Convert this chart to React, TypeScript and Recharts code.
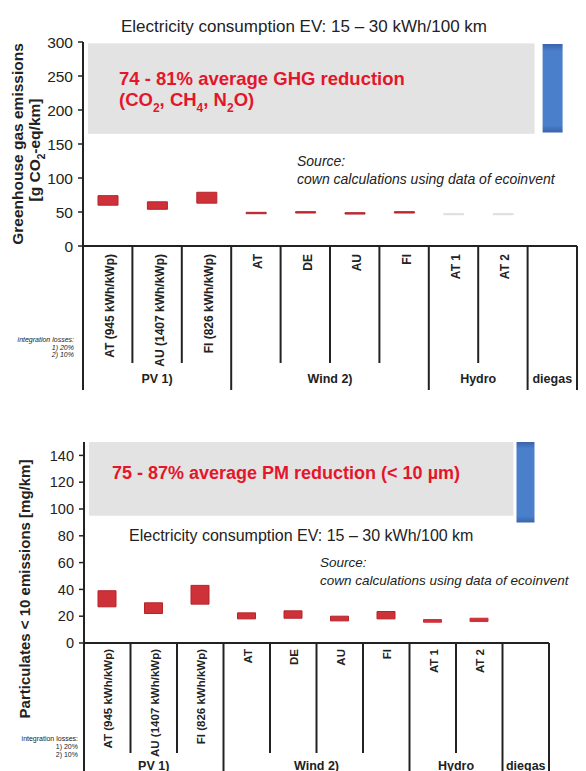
import React from 'react';
import { BarChart, Bar, XAxis, YAxis, Cell, ReferenceArea } from 'recharts';

const categories = ['pv-at', 'pv-au', 'pv-fi', 'wind-at', 'wind-de', 'wind-au', 'wind-fi', 'hydro-at1', 'hydro-at2', 'diesel'];
const tickLabels = ['AT (945 kWh/kWp)', 'AU (1407 kWh/kWp)', 'FI (826 kWh/kWp)', 'AT', 'DE', 'AU', 'FI', 'AT 1', 'AT 2', ''];
const groupLabels = ['PV 1)', 'Wind 2)', 'Hydro', 'diegas'];
const groupSizes = [3, 4, 2, 1];

// greenhouse gas, g CO2-eq/km (min / max)
const ghgLow = [60, 54, 63, 47.5, 48.5, 47, 48.5, 46, 46, 167];
const ghgHigh = [74, 65, 79, 49.5, 50.5, 49, 50.5, 47.5, 47.5, 297];
const ghgTicks = [0, 50, 100, 150, 200, 250, 300];
const ghgBand = [165, 298];

// particulates < 10 um, mg/km (min / max)
const pmLow = [27, 22, 29, 18, 18.5, 16.5, 18, 15.5, 16, 90];
const pmHigh = [39, 30, 43, 22.5, 24, 20, 23.5, 17.5, 18.5, 150];
const pmTicks = [0, 20, 40, 60, 80, 100, 120, 140];
const pmBand = [95, 150];

const FONT = '"Liberation Sans", Arial, sans-serif';
const INK = '#222222';
const RED_TEXT = '#e3162b';

const groupStarts = groupSizes.map((_, i) => groupSizes.slice(0, i).reduce((a, b) => a + b, 0));

type PanelCfg = {
  top: number;
  height: number;
  plotLeft: number;
  plotRight: number;
  plotTop: number;
  plotBottom: number;
  domainMax: number;
  ticks: number[];
  low: number[];
  high: number[];
  band: number[];
  bandInset: [number, number];
  barSize: number;
  tickFont: number;
  labelFont: number;
  labelDx: number;
  labelDy: number;
  shortLine: number;
  longLine: number;
  groupY: number;
  hydroColor: string;
  gradId: string;
};

function CategoryTick(props: any) {
  const { x, index, cfg } = props;
  const c: PanelCfg = cfg;
  const y0 = c.plotBottom;
  const bw = (c.plotRight - c.plotLeft) / categories.length;
  const left = x - bw / 2;
  const gi = groupStarts.indexOf(index);
  const isStart = gi >= 0;
  const last = index === categories.length - 1;
  const px = x + c.labelDx;
  const py = y0 + c.labelDy;
  return (
    <g>
      <line x1={left} x2={left} y1={y0} y2={y0 + (isStart ? c.longLine : c.shortLine)} stroke={INK} strokeWidth={2} />
      {last && (
        <line x1={left + bw} x2={left + bw} y1={y0} y2={y0 + c.longLine} stroke={INK} strokeWidth={2} />
      )}
      <text
        x={px}
        y={py}
        transform={`rotate(-90, ${px}, ${py})`}
        textAnchor="end"
        fontFamily={FONT}
        fontWeight="bold"
        fontSize={c.labelFont}
        fill={INK}
      >
        {tickLabels[index]}
      </text>
      {isStart && (
        <text
          x={left + (groupSizes[gi] * bw) / 2}
          y={y0 + c.groupY}
          textAnchor="middle"
          fontFamily={FONT}
          fontWeight="bold"
          fontSize={12.5}
          fill={INK}
        >
          {groupLabels[gi]}
        </text>
      )}
    </g>
  );
}

function Panel({ cfg }: { cfg: PanelCfg }) {
  const data = categories.map((key, i) => ({ key, range: [cfg.low[i], cfg.high[i]] }));
  const width = 586;
  return (
    <div style={{ position: 'absolute', left: 0, top: cfg.top }}>
      <BarChart
        width={width}
        height={cfg.height}
        data={data}
        margin={{ top: cfg.plotTop, right: width - cfg.plotRight, left: cfg.plotLeft - 60, bottom: 0 }}
      >
        <defs>
          <linearGradient id={cfg.gradId} x1="0" y1="0" x2="0" y2="1">
            <stop offset="0%" stopColor="#3a64aa" />
            <stop offset="8%" stopColor="#4a7fcb" />
            <stop offset="92%" stopColor="#4a7fcb" />
            <stop offset="100%" stopColor="#3a64aa" />
          </linearGradient>
        </defs>
        <XAxis
          dataKey="key"
          height={cfg.height - cfg.plotBottom}
          interval={0}
          tickLine={false}
          tickSize={0}
          tickMargin={0}
          axisLine={{ stroke: INK, strokeWidth: 2 }}
          tick={(p: any) => <CategoryTick {...p} cfg={cfg} />}
        />
        <YAxis
          width={60}
          domain={[0, cfg.domainMax]}
          ticks={cfg.ticks}
          interval={0}
          stroke={INK}
          tickSize={5}
          tickMargin={5}
          axisLine={{ stroke: INK, strokeWidth: 2 }}
          tickLine={{ stroke: INK, strokeWidth: 1.5 }}
          tick={{ fill: INK, fontSize: cfg.tickFont, fontFamily: FONT }}
        />
        <ReferenceArea
          x1={categories[0]}
          x2={categories[8]}
          y1={cfg.band[0]}
          y2={cfg.band[1]}
          fill="#e3e3e3"
          fillOpacity={1}
          stroke="none"
          shape={(p: any) => (
            <rect
              x={p.x + cfg.bandInset[0]}
              y={p.y}
              width={p.width - cfg.bandInset[0] + cfg.bandInset[1]}
              height={p.height}
              fill="#e3e3e3"
            />
          )}
        />
        <Bar dataKey="range" barSize={cfg.barSize} isAnimationActive={false}>
          {categories.map((k, i) => {
            const fill = i === 9 ? `url(#${cfg.gradId})` : i >= 7 ? cfg.hydroColor : '#cf3139';
            const stroke = i === 9 ? 'none' : i >= 7 ? cfg.hydroColor : '#b5242c';
            return <Cell key={k} fill={fill} stroke={stroke} strokeWidth={1} />;
          })}
        </Bar>
      </BarChart>
    </div>
  );
}

const topCfg: PanelCfg = {
  top: 0,
  height: 400,
  plotLeft: 83,
  plotRight: 577,
  plotTop: 42,
  plotBottom: 246,
  domainMax: 300,
  ticks: ghgTicks,
  low: ghgLow,
  high: ghgHigh,
  band: ghgBand,
  bandInset: [5, 7],
  barSize: 20,
  tickFont: 15.5,
  labelFont: 12,
  labelDx: 6.5,
  labelDy: 8,
  shortLine: 117,
  longLine: 144,
  groupY: 137,
  hydroColor: '#dedede',
  gradId: 'dieselTop',
};

const bottomCfg: PanelCfg = {
  top: 400,
  height: 371,
  plotLeft: 84,
  plotRight: 549,
  plotTop: 42,
  plotBottom: 243,
  domainMax: 150,
  ticks: pmTicks,
  low: pmLow,
  high: pmHigh,
  band: pmBand,
  bandInset: [5, 11],
  barSize: 18,
  tickFont: 14.5,
  labelFont: 11.5,
  labelDx: 5,
  labelDy: 6,
  shortLine: 110,
  longLine: 128,
  groupY: 127,
  hydroColor: '#cf3139',
  gradId: 'dieselBottom',
};

function Sub({ children, size }: { children: React.ReactNode; size: number }) {
  return (
    <tspan dy={size * 0.3} fontSize={size * 0.65}>
      {children}
    </tspan>
  );
}

function Overlay() {
  const t = { fontFamily: FONT, fill: INK };
  return (
    <svg width={586} height={771} style={{ position: 'absolute', left: 0, top: 0, pointerEvents: 'none' }}>
      {/* top panel */}
      <text x={304} y={32} fontSize={17} textAnchor="middle" {...t}>
        Electricity consumption EV: 15 – 30 kWh/100 km
      </text>
      <text x={119} y={85} fontSize={18.5} fontWeight="bold" fontFamily={FONT} fill={RED_TEXT}>
        74 - 81% average GHG reduction
      </text>
      <text x={119} y={106} fontSize={18.5} fontWeight="bold" fontFamily={FONT} fill={RED_TEXT}>
        (CO<Sub size={18.5}>2</Sub>
        <tspan dy={-18.5 * 0.3}>, CH</tspan>
        <Sub size={18.5}>4</Sub>
        <tspan dy={-18.5 * 0.3}>, N</tspan>
        <Sub size={18.5}>2</Sub>
        <tspan dy={-18.5 * 0.3}>O)</tspan>
      </text>
      <text x={297} y={166} fontSize={14} fontStyle="italic" {...t}>Source:</text>
      <text x={297} y={184} fontSize={14} fontStyle="italic" {...t}>cown calculations using data of ecoinvent</text>
      <text x={23} y={144} transform="rotate(-90, 23, 144)" textAnchor="middle" fontSize={15.5} fontWeight="bold" {...t}>
        Greenhouse gas emissions
      </text>
      <text x={40} y={150} transform="rotate(-90, 40, 150)" textAnchor="middle" fontSize={15.5} fontWeight="bold" {...t}>
        [g CO<Sub size={15.5}>2</Sub>
        <tspan dy={-15.5 * 0.3}>-eq/km]</tspan>
      </text>
      <text x={74} y={342} fontSize={7} fontStyle="italic" textAnchor="end" {...t}>integration losses:</text>
      <text x={74} y={349.5} fontSize={7} fontStyle="italic" textAnchor="end" {...t}>1) 20%</text>
      <text x={74} y={357} fontSize={7} fontStyle="italic" textAnchor="end" {...t}>2) 10%</text>

      {/* bottom panel */}
      <text x={112} y={479} fontSize={18} fontWeight="bold" fontFamily={FONT} fill={RED_TEXT}>
        75 - 87% average PM reduction (&lt; 10 µm)
      </text>
      <text x={129} y={541} fontSize={16} {...t}>
        Electricity consumption EV: 15 – 30 kWh/100 km
      </text>
      <text x={320} y={567} fontSize={13.5} fontStyle="italic" {...t}>Source:</text>
      <text x={320} y={585} fontSize={13.5} fontStyle="italic" {...t}>cown calculations using data of ecoinvent</text>
      <text x={30} y={589} transform="rotate(-90, 30, 589)" textAnchor="middle" fontSize={15} fontWeight="bold" {...t}>
        Particulates &lt; 10  emissions [mg/km]
      </text>
      <text x={78} y={741} fontSize={7} textAnchor="end" {...t}>integration losses:</text>
      <text x={78} y={749} fontSize={7} textAnchor="end" {...t}>1) 20%</text>
      <text x={78} y={757} fontSize={7} textAnchor="end" {...t}>2) 10%</text>
    </svg>
  );
}

export default function App() {
  return (
    <div style={{ position: 'absolute', left: 0, top: 0, width: 586, height: 771, background: '#fff', overflow: 'hidden' }}>
      <Panel cfg={topCfg} />
      <Panel cfg={bottomCfg} />
      <Overlay />
    </div>
  );
}
